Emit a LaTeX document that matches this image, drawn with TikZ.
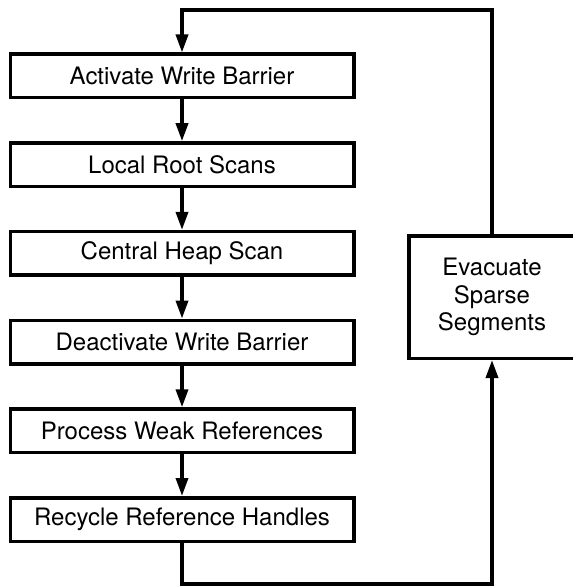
\documentclass[tikz,border=0pt]{standalone}
\usepackage{fontspec}
\setmainfont{TeX Gyre Heros}
\usetikzlibrary{arrows.meta}

\tikzset{
	stage/.style={draw, line width=1.75pt, minimum width=171.75pt, minimum height=21.75pt, inner sep=0pt, font=\fontsize{12}{13.75}\selectfont},
	sidestage/.style={stage, minimum width=83.25pt, minimum height=61.25pt, align=center},
	flow/.style={line width=1.75pt, -{Triangle[width=6pt,length=9pt]}}
}

\begin{document}
\begin{tikzpicture}[x=0.5pt,y=-0.5pt]
	\useasboundingbox (0,0) rectangle (572,588);
	%collection steps
	\node[stage] (activate) at (182,76) {Activate Write Barrier};
	\node[stage] (localroot) at (182,164.7) {Local Root Scans};
	\node[stage] (centralheap) at (182,253.4) {Central Heap Scan};
	\node[stage] (deactivate) at (182,342.1) {Deactivate Write Barrier};
	\node[stage] (weakrefs) at (182,430.8) {Process Weak References};
	\node[stage] (recycle) at (182,519.5) {Recycle Reference Handles};
	\draw[flow] (activate) -- (localroot);
	\draw[flow] (localroot) -- (centralheap);
	\draw[flow] (centralheap) -- (deactivate);
	\draw[flow] (deactivate) -- (weakrefs);
	\draw[flow] (weakrefs) -- (recycle);
	
	%evacuation
	\node[sidestage] (evacuate) at (492,297) {Evacuate\\Sparse\\Segments};
	
	%loop back
	\coordinate (loopbottom) at (492,584);
	\coordinate (looptop) at (182,10);
	\draw[flow] (recycle.south) |- (loopbottom) -- (evacuate.south);
	\draw[flow] (evacuate.north) |- (looptop) -- (activate.north);
\end{tikzpicture}
\end{document}
